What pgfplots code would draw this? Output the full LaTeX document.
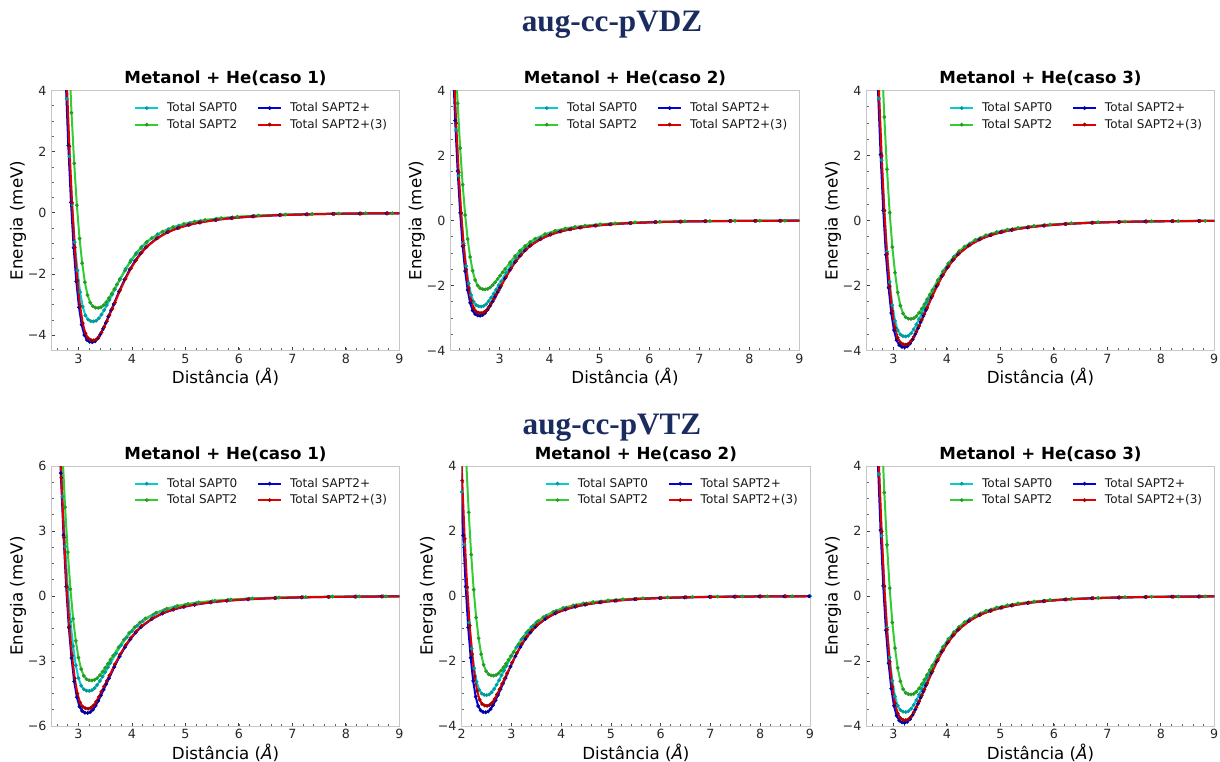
\documentclass[border=0pt]{standalone}
\usepackage{fontspec}
\setmainfont{DejaVu Sans}
\newfontfamily\titleserif{Liberation Serif}
\usepackage{pgfplots}
\usepackage{pgfplotstable}
\pgfplotsset{compat=1.18}

\definecolor{cSa}{HTML}{00CED1}
\definecolor{cSb}{HTML}{32CD32}
\definecolor{cSc}{HTML}{0000DD}
\definecolor{cSd}{HTML}{E00000}
\definecolor{navyT}{HTML}{1A2B5F}

\newcommand{\tickfont}{\fontsize{9.5}{11}\selectfont}
\newcommand{\labfont}{\fontsize{12.5}{15}\selectfont}
\newcommand{\titfont}{\bfseries\fontsize{12.5}{15}\selectfont}
\newcommand{\legfont}{\fontsize{9}{10.8}\selectfont}

% caso 1, aug-cc-pVDZ
\pgfplotstableread{
xc yc xg yg xb yb xr yr
2.68 8.875 2.77 7.775 2.66 10.575 2.68 10.425
2.73 6.035 2.82 5.287 2.71 7.191 2.73 7.089
2.78 3.728 2.87 3.266 2.76 4.442 2.78 4.379
2.83 1.846 2.92 1.617 2.81 2.200 2.83 2.168
2.88 0.284 2.97 0.249 2.86 0.338 2.88 0.334
2.93 -0.959 3.02 -0.840 2.91 -1.142 2.93 -1.126
2.98 -1.882 3.07 -1.648 2.96 -2.242 2.98 -2.210
3.03 -2.592 3.12 -2.270 3.01 -3.088 3.03 -3.044
3.08 -3.071 3.17 -2.690 3.06 -3.659 3.08 -3.607
3.13 -3.355 3.22 -2.939 3.11 -3.997 3.13 -3.941
3.18 -3.490 3.27 -3.057 3.16 -4.158 3.18 -4.099
3.23 -3.539 3.32 -3.101 3.21 -4.217 3.23 -4.157
3.28 -3.550 3.37 -3.110 3.26 -4.230 3.28 -4.170
3.33 -3.525 3.42 -3.088 3.31 -4.200 3.33 -4.141
3.38 -3.451 3.47 -3.023 3.36 -4.112 3.38 -4.053
3.43 -3.330 3.52 -2.917 3.41 -3.968 3.43 -3.911
3.48 -3.181 3.57 -2.787 3.46 -3.790 3.48 -3.736
3.53 -3.018 3.62 -2.644 3.51 -3.596 3.53 -3.545
3.58 -2.844 3.67 -2.491 3.56 -3.388 3.58 -3.340
3.63 -2.673 3.72 -2.342 3.61 -3.185 3.63 -3.140
3.68 -2.503 3.77 -2.193 3.66 -2.982 3.68 -2.940
3.78 -2.155 3.87 -1.888 3.76 -2.568 3.78 -2.531
3.88 -1.835 3.97 -1.608 3.86 -2.187 3.88 -2.156
3.98 -1.551 4.07 -1.359 3.96 -1.849 3.98 -1.822
4.08 -1.314 4.17 -1.151 4.06 -1.565 4.08 -1.543
4.18 -1.111 4.27 -0.973 4.16 -1.324 4.18 -1.305
4.28 -0.944 4.37 -0.827 4.26 -1.125 4.28 -1.109
4.48 -0.703 4.57 -0.616 4.46 -0.838 4.48 -0.826
4.68 -0.533 4.77 -0.467 4.66 -0.635 4.68 -0.626
4.88 -0.415 4.97 -0.364 4.86 -0.495 4.88 -0.488
5.08 -0.330 5.17 -0.289 5.06 -0.393 5.08 -0.388
5.28 -0.266 5.37 -0.233 5.26 -0.317 5.28 -0.313
5.58 -0.195 5.67 -0.171 5.56 -0.233 5.58 -0.229
5.88 -0.146 5.97 -0.128 5.86 -0.173 5.88 -0.171
6.28 -0.099 6.37 -0.087 6.26 -0.118 6.28 -0.117
6.78 -0.064 6.87 -0.056 6.76 -0.076 6.78 -0.075
7.28 -0.043 7.37 -0.037 7.26 -0.051 7.28 -0.050
7.78 -0.028 7.87 -0.025 7.76 -0.034 7.78 -0.033
8.28 -0.020 8.37 -0.017 8.26 -0.023 8.28 -0.023
8.78 -0.014 8.87 -0.012 8.76 -0.017 8.78 -0.017
9.28 -0.011 9.37 -0.009 9.26 -0.013 9.28 -0.013
}\dataA

% caso 2, aug-cc-pVDZ
\pgfplotstableread{
xc yc xg yg xb yb xr yr
2.03 6.625 2.11 5.300 2.01 7.325 2.03 7.125
2.08 4.505 2.16 3.604 2.06 4.981 2.08 4.845
2.13 2.783 2.21 2.226 2.11 3.077 2.13 2.993
2.18 1.378 2.26 1.102 2.16 1.524 2.18 1.482
2.23 0.212 2.31 0.170 2.21 0.234 2.23 0.228
2.28 -0.716 2.36 -0.572 2.26 -0.791 2.28 -0.770
2.33 -1.405 2.41 -1.124 2.31 -1.553 2.33 -1.511
2.38 -1.935 2.46 -1.548 2.36 -2.139 2.38 -2.081
2.43 -2.292 2.51 -1.834 2.41 -2.534 2.43 -2.465
2.48 -2.504 2.56 -2.003 2.46 -2.769 2.48 -2.693
2.53 -2.605 2.61 -2.084 2.51 -2.880 2.53 -2.802
2.58 -2.642 2.66 -2.114 2.56 -2.921 2.58 -2.841
2.63 -2.650 2.71 -2.120 2.61 -2.930 2.63 -2.850
2.68 -2.631 2.76 -2.105 2.66 -2.909 2.68 -2.830
2.73 -2.576 2.81 -2.061 2.71 -2.848 2.73 -2.770
2.78 -2.486 2.86 -1.989 2.76 -2.748 2.78 -2.673
2.83 -2.374 2.91 -1.900 2.81 -2.625 2.83 -2.554
2.88 -2.253 2.96 -1.802 2.86 -2.491 2.88 -2.423
2.93 -2.123 3.01 -1.698 2.91 -2.347 2.93 -2.283
2.98 -1.995 3.06 -1.596 2.96 -2.206 2.98 -2.146
3.03 -1.868 3.11 -1.495 3.01 -2.066 3.03 -2.009
3.13 -1.609 3.21 -1.287 3.11 -1.779 3.13 -1.730
3.23 -1.370 3.31 -1.096 3.21 -1.515 3.23 -1.473
3.33 -1.158 3.41 -0.926 3.31 -1.280 3.33 -1.245
3.43 -0.981 3.51 -0.784 3.41 -1.084 3.43 -1.055
3.53 -0.829 3.61 -0.664 3.51 -0.917 3.53 -0.892
3.63 -0.705 3.71 -0.564 3.61 -0.779 3.63 -0.758
3.83 -0.525 3.91 -0.420 3.81 -0.580 3.83 -0.564
4.03 -0.398 4.11 -0.318 4.01 -0.440 4.03 -0.428
4.23 -0.310 4.31 -0.248 4.21 -0.343 4.23 -0.333
4.43 -0.246 4.51 -0.197 4.41 -0.272 4.43 -0.265
4.63 -0.199 4.71 -0.159 4.61 -0.220 4.63 -0.214
4.93 -0.146 5.01 -0.117 4.91 -0.161 4.93 -0.157
5.23 -0.109 5.31 -0.087 5.21 -0.120 5.23 -0.117
5.63 -0.074 5.71 -0.059 5.61 -0.082 5.63 -0.080
6.13 -0.048 6.21 -0.038 6.11 -0.053 6.13 -0.051
6.63 -0.032 6.71 -0.025 6.61 -0.035 6.63 -0.034
7.13 -0.021 7.21 -0.017 7.11 -0.023 7.13 -0.023
7.63 -0.015 7.71 -0.012 7.61 -0.016 7.63 -0.016
8.13 -0.011 8.21 -0.008 8.11 -0.012 8.13 -0.011
8.63 -0.008 8.71 -0.006 8.61 -0.009 8.63 -0.009
9.13 -0.005 9.21 -0.004 9.11 -0.006 9.13 -0.006
}\dataB

% caso 3 (both basis sets)
\pgfplotstableread{
xc yc xg yg xb yb xr yr
2.63 8.925 2.73 7.575 2.61 9.750 2.63 9.550
2.68 6.069 2.78 5.151 2.66 6.630 2.68 6.494
2.73 3.749 2.83 3.182 2.71 4.095 2.73 4.011
2.78 1.856 2.88 1.576 2.76 2.028 2.78 1.986
2.83 0.286 2.93 0.242 2.81 0.312 2.83 0.306
2.88 -0.964 2.98 -0.818 2.86 -1.053 2.88 -1.031
2.93 -1.892 3.03 -1.606 2.91 -2.067 2.93 -2.025
2.98 -2.606 3.08 -2.212 2.96 -2.847 2.98 -2.789
3.03 -3.088 3.13 -2.621 3.01 -3.374 3.03 -3.304
3.08 -3.374 3.18 -2.863 3.06 -3.686 3.08 -3.610
3.13 -3.509 3.23 -2.978 3.11 -3.834 3.13 -3.755
3.18 -3.559 3.28 -3.021 3.16 -3.888 3.18 -3.809
3.23 -3.570 3.33 -3.030 3.21 -3.900 3.23 -3.820
3.28 -3.545 3.38 -3.009 3.26 -3.873 3.28 -3.793
3.33 -3.470 3.43 -2.945 3.31 -3.791 3.33 -3.713
3.38 -3.349 3.48 -2.842 3.36 -3.658 3.38 -3.583
3.43 -3.199 3.53 -2.715 3.41 -3.494 3.43 -3.423
3.48 -3.035 3.58 -2.576 3.46 -3.315 3.48 -3.247
3.53 -2.860 3.63 -2.427 3.51 -3.124 3.53 -3.060
3.58 -2.688 3.68 -2.282 3.56 -2.937 3.58 -2.876
3.63 -2.517 3.73 -2.136 3.61 -2.750 3.63 -2.693
3.73 -2.167 3.83 -1.839 3.71 -2.367 3.73 -2.319
3.83 -1.846 3.93 -1.567 3.81 -2.016 3.83 -1.975
3.93 -1.560 4.03 -1.324 3.91 -1.704 3.93 -1.669
4.03 -1.321 4.13 -1.121 4.01 -1.443 4.03 -1.413
4.13 -1.117 4.23 -0.948 4.11 -1.221 4.13 -1.196
4.23 -0.950 4.33 -0.806 4.21 -1.037 4.23 -1.016
4.43 -0.707 4.53 -0.600 4.41 -0.772 4.43 -0.756
4.63 -0.536 4.73 -0.455 4.61 -0.585 4.63 -0.573
4.83 -0.418 4.93 -0.355 4.81 -0.456 4.83 -0.447
5.03 -0.332 5.13 -0.282 5.01 -0.363 5.03 -0.355
5.23 -0.268 5.33 -0.227 5.21 -0.293 5.23 -0.287
5.53 -0.196 5.63 -0.167 5.51 -0.215 5.53 -0.210
5.83 -0.146 5.93 -0.124 5.81 -0.160 5.83 -0.157
6.23 -0.100 6.33 -0.085 6.21 -0.109 6.23 -0.107
6.73 -0.064 6.83 -0.055 6.71 -0.070 6.73 -0.069
7.23 -0.043 7.33 -0.036 7.21 -0.047 7.23 -0.046
7.73 -0.029 7.83 -0.024 7.71 -0.031 7.73 -0.031
8.23 -0.020 8.33 -0.017 8.21 -0.021 8.23 -0.021
8.73 -0.014 8.83 -0.012 8.71 -0.016 8.73 -0.015
9.23 -0.011 9.33 -0.009 9.21 -0.012 9.23 -0.011
}\dataC

% caso 1, aug-cc-pVTZ
\pgfplotstableread{
xc yc xg yg xb yb xr yr
2.60 10.950 2.65 9.750 2.57 13.500 2.58 13.000
2.65 7.446 2.70 6.630 2.62 9.180 2.63 8.840
2.70 4.599 2.75 4.095 2.67 5.670 2.68 5.460
2.75 2.278 2.80 2.028 2.72 2.808 2.73 2.704
2.80 0.350 2.85 0.312 2.77 0.432 2.78 0.416
2.85 -1.183 2.90 -1.053 2.82 -1.458 2.83 -1.404
2.90 -2.321 2.95 -2.067 2.87 -2.862 2.88 -2.756
2.95 -3.197 3.00 -2.847 2.92 -3.942 2.93 -3.796
3.00 -3.789 3.05 -3.374 2.97 -4.671 2.98 -4.498
3.05 -4.139 3.10 -3.686 3.02 -5.103 3.03 -4.914
3.10 -4.306 3.15 -3.834 3.07 -5.308 3.08 -5.112
3.15 -4.367 3.20 -3.888 3.12 -5.384 3.13 -5.184
3.20 -4.380 3.25 -3.900 3.17 -5.400 3.18 -5.200
3.25 -4.349 3.30 -3.873 3.22 -5.362 3.23 -5.164
3.30 -4.257 3.35 -3.791 3.27 -5.249 3.28 -5.054
3.35 -4.108 3.40 -3.658 3.32 -5.065 3.33 -4.878
3.40 -3.924 3.45 -3.494 3.37 -4.838 3.38 -4.659
3.45 -3.723 3.50 -3.315 3.42 -4.590 3.43 -4.420
3.50 -3.508 3.55 -3.124 3.47 -4.325 3.48 -4.165
3.55 -3.298 3.60 -2.937 3.52 -4.066 3.53 -3.916
3.60 -3.088 3.65 -2.750 3.57 -3.807 3.58 -3.666
3.70 -2.659 3.75 -2.367 3.67 -3.278 3.68 -3.156
3.80 -2.264 3.85 -2.016 3.77 -2.792 3.78 -2.688
3.90 -1.914 3.95 -1.704 3.87 -2.360 3.88 -2.272
4.00 -1.621 4.05 -1.443 3.97 -1.998 3.98 -1.924
4.10 -1.371 4.15 -1.221 4.07 -1.690 4.08 -1.628
4.20 -1.165 4.25 -1.037 4.17 -1.436 4.18 -1.383
4.40 -0.867 4.45 -0.772 4.37 -1.069 4.38 -1.030
4.60 -0.657 4.65 -0.585 4.57 -0.810 4.58 -0.780
4.80 -0.512 4.85 -0.456 4.77 -0.632 4.78 -0.608
5.00 -0.407 5.05 -0.363 4.97 -0.502 4.98 -0.484
5.20 -0.329 5.25 -0.293 5.17 -0.405 5.18 -0.390
5.50 -0.241 5.55 -0.215 5.47 -0.297 5.48 -0.286
5.80 -0.180 5.85 -0.160 5.77 -0.221 5.78 -0.213
6.20 -0.123 6.25 -0.109 6.17 -0.151 6.18 -0.146
6.70 -0.079 6.75 -0.070 6.67 -0.097 6.68 -0.094
7.20 -0.053 7.25 -0.047 7.17 -0.065 7.18 -0.062
7.70 -0.035 7.75 -0.031 7.67 -0.043 7.68 -0.042
8.20 -0.024 8.25 -0.021 8.17 -0.030 8.18 -0.029
8.70 -0.018 8.75 -0.016 8.67 -0.022 8.68 -0.021
9.20 -0.013 9.25 -0.012 9.17 -0.016 9.18 -0.016
}\dataD

% caso 2, aug-cc-pVTZ
\pgfplotstableread{
xc yc xg yg xb yb xr yr
1.90 7.625 2.04 6.125 1.88 8.950 1.91 8.450
1.95 5.185 2.09 4.165 1.93 6.086 1.96 5.746
2.00 3.203 2.14 2.573 1.98 3.759 2.01 3.549
2.05 1.586 2.19 1.274 2.03 1.862 2.06 1.758
2.10 0.244 2.24 0.196 2.08 0.286 2.11 0.270
2.15 -0.824 2.29 -0.662 2.13 -0.967 2.16 -0.913
2.20 -1.617 2.34 -1.299 2.18 -1.897 2.21 -1.791
2.25 -2.227 2.39 -1.789 2.23 -2.613 2.26 -2.467
2.30 -2.638 2.44 -2.119 2.28 -3.097 2.31 -2.924
2.35 -2.882 2.49 -2.315 2.33 -3.383 2.36 -3.194
2.40 -2.998 2.54 -2.408 2.38 -3.519 2.41 -3.323
2.45 -3.041 2.59 -2.443 2.43 -3.569 2.46 -3.370
2.50 -3.050 2.64 -2.450 2.48 -3.580 2.51 -3.380
2.55 -3.029 2.69 -2.433 2.53 -3.555 2.56 -3.356
2.60 -2.965 2.74 -2.381 2.58 -3.480 2.61 -3.285
2.65 -2.861 2.79 -2.298 2.63 -3.358 2.66 -3.170
2.70 -2.733 2.84 -2.195 2.68 -3.208 2.71 -3.028
2.75 -2.593 2.89 -2.083 2.73 -3.043 2.76 -2.873
2.80 -2.443 2.94 -1.962 2.78 -2.868 2.81 -2.707
2.85 -2.297 2.99 -1.845 2.83 -2.696 2.86 -2.545
2.90 -2.150 3.04 -1.727 2.88 -2.524 2.91 -2.383
3.00 -1.851 3.14 -1.487 2.98 -2.173 3.01 -2.052
3.10 -1.577 3.24 -1.267 3.08 -1.851 3.11 -1.747
3.20 -1.333 3.34 -1.071 3.18 -1.564 3.21 -1.477
3.30 -1.129 3.44 -0.907 3.28 -1.325 3.31 -1.251
3.40 -0.955 3.54 -0.767 3.38 -1.121 3.41 -1.058
3.50 -0.811 3.64 -0.652 3.48 -0.952 3.51 -0.899
3.70 -0.604 3.84 -0.485 3.68 -0.709 3.71 -0.669
3.90 -0.458 4.04 -0.368 3.88 -0.537 3.91 -0.507
4.10 -0.357 4.24 -0.287 4.08 -0.419 4.11 -0.395
4.30 -0.284 4.44 -0.228 4.28 -0.333 4.31 -0.314
4.50 -0.229 4.64 -0.184 4.48 -0.269 4.51 -0.254
4.80 -0.168 4.94 -0.135 4.78 -0.197 4.81 -0.186
5.10 -0.125 5.24 -0.100 5.08 -0.147 5.11 -0.139
5.50 -0.085 5.64 -0.069 5.48 -0.100 5.51 -0.095
6.00 -0.055 6.14 -0.044 5.98 -0.064 6.01 -0.061
6.50 -0.037 6.64 -0.029 6.48 -0.043 6.51 -0.041
7.00 -0.024 7.14 -0.020 6.98 -0.029 7.01 -0.027
7.50 -0.017 7.64 -0.013 7.48 -0.020 7.51 -0.019
8.00 -0.012 8.14 -0.010 7.98 -0.014 8.01 -0.014
8.50 -0.009 8.64 -0.007 8.48 -0.011 8.51 -0.010
9.00 -0.006 9.14 -0.005 8.98 -0.007 9.01 -0.007
}\dataE

\pgfplotsset{
  curve/.style={line width=1.5pt, mark=*, mark size=1.35pt,
    mark options={solid, line width=0.2pt, draw=.!75!black, fill=.!75!black}},
  sapt/.style={
    scale only axis, height=195pt, anchor=south west,
    axis line style={draw=black!22, line width=0.7pt},
    tick pos=left, tick align=inside,
    major tick length=2.6pt, minor tick length=1.5pt,
    every major tick/.style={draw=black!75, line width=0.6pt},
    every minor tick/.style={draw=black!60, line width=0.5pt},
    xtick={2,3,4,5,6,7,8,9},
    minor xtick={2.2,2.4,...,8.8},
    ticklabel style={font=\tickfont, text=black!85},
    xticklabel style={anchor=base, yshift=-9.6pt, inner sep=0pt},
    yticklabel style={anchor=east, xshift=-3.75pt, inner sep=0pt},
    /pgf/number format/assume math mode=true,
    xlabel={Distância ({\itshape Å})},
    ylabel={Energia (meV)},
    every axis x label/.style={at={(axis description cs:0.5,0)}, anchor=base, yshift=-24.75pt, font=\labfont},
    every axis y label/.style={at={(axis description cs:-0.097,0.5)}, anchor=center, rotate=90, font=\labfont},
    every axis title/.style={at={(axis description cs:0.5,1)}, anchor=base, yshift=4.9pt, font=\titfont},
    legend style={at={(axis description cs:0.985,0.975)}, anchor=north east, draw=none, fill=none,
      font=\legfont, text=black!90, legend columns=2,
      /tikz/every odd column/.append style={column sep=4pt},
      /tikz/every even column/.append style={column sep=13pt}},
    legend cell align=left,
    xmax=9,
  },
  ya/.style={ymin=-4, ymax=4, ytick={-4,-2,0,2,4}, yticklabels={−4,−2,0,2,4}, minor ytick={-4,-3.5,...,4}},
}

\newcommand\fourcurves[1]{%
  \addlegendimage{cSa,curve}\addlegendentry{Total SAPT0}%
  \addlegendimage{cSc,curve}\addlegendentry{Total SAPT2+}%
  \addlegendimage{cSb,curve}\addlegendentry{Total SAPT2}%
  \addlegendimage{cSd,curve}\addlegendentry{Total SAPT2+(3)}%
  \addplot[cSa,curve,forget plot] table[x=xc,y=yc]{#1};%
  \addplot[cSb,curve,forget plot] table[x=xg,y=yg]{#1};%
  \addplot[cSc,curve,forget plot] table[x=xb,y=yb]{#1};%
  \addplot[cSd,curve,forget plot] table[x=xr,y=yr]{#1};%
}

\begin{document}
\begin{tikzpicture}
\path[use as bounding box] (0,0) rectangle (915pt,570.75pt);

\node[font=\titleserif\bfseries\fontsize{23.4}{28}\selectfont, text=navyT, anchor=base] at (459pt,546.75pt) {aug-cc-pVDZ};
\node[font=\titleserif\bfseries\fontsize{23.4}{28}\selectfont, text=navyT, anchor=base] at (459pt,244.5pt) {aug-cc-pVTZ};

% row 1
\begin{axis}[sapt, at={(38.8pt,307.9pt)}, width=260.7pt,
  xmin=2.5, ymin=-4.5, ymax=4, ytick={-4,-2,0,2,4}, yticklabels={−4,−2,0,2,4},
  minor ytick={-4.5,-4,...,4}, title={Metanol + He(caso 1)}]
\fourcurves{\dataA}
\end{axis}

\begin{axis}[sapt, ya, at={(338.0pt,307.9pt)}, width=261.5pt,
  xmin=2.02, title={Metanol + He(caso 2)}]
\fourcurves{\dataB}
\end{axis}

\begin{axis}[sapt, ya, at={(650.0pt,307.9pt)}, width=260.7pt,
  xmin=2.5, title={Metanol + He(caso 3)}]
\fourcurves{\dataC}
\end{axis}

% row 2
\begin{axis}[sapt, at={(38.8pt,26.25pt)}, width=260.7pt,
  xmin=2.5, ymin=-6, ymax=6, ytick={-6,-3,0,3,6}, yticklabels={−6,−3,0,3,6},
  minor ytick={-6,-5.25,...,6}, title={Metanol + He(caso 1)}]
\fourcurves{\dataD}
\end{axis}

\begin{axis}[sapt, ya, at={(346.3pt,26.25pt)}, width=261.2pt,
  xmin=2, title={Metanol + He(caso 2)}]
\fourcurves{\dataE}
\end{axis}

\begin{axis}[sapt, ya, at={(650.0pt,26.25pt)}, width=260.7pt,
  xmin=2.5, title={Metanol + He(caso 3)}]
\fourcurves{\dataC}
\end{axis}

\end{tikzpicture}
\end{document}
